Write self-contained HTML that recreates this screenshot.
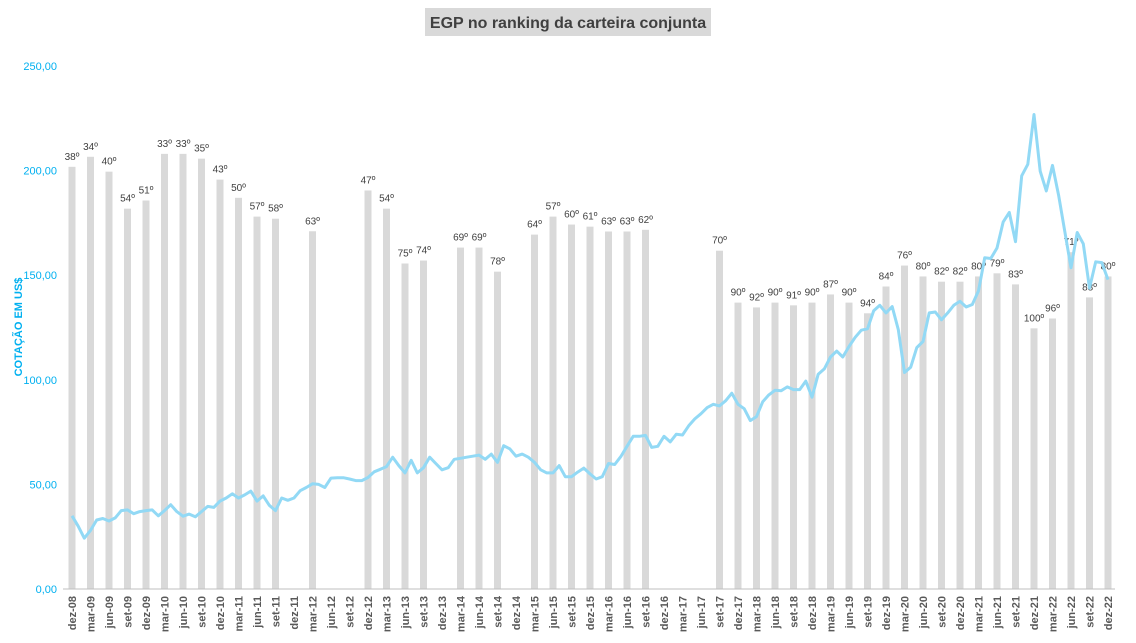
<!DOCTYPE html>
<html><head><meta charset="utf-8"><style>
body{margin:0;background:#fff;}
svg{display:block;font-family:"Liberation Sans",sans-serif;}
</style></head><body>
<svg id="chart" width="1136" height="643">
<rect x="425" y="8" width="286" height="28" fill="#d9d9d9"/>
<text x="568" y="28" text-anchor="middle" font-size="16" font-weight="bold" fill="#404040">EGP no ranking da carteira conjunta</text>
<text transform="translate(22,327) rotate(-90)" text-anchor="middle" font-size="11" font-weight="bold" fill="#00b0f0">COTAÇÃO EM US$</text>
<g id="yticks"></g><g id="bars"></g><g id="barlabels"></g><g id="line"></g><g id="xticks"></g>
<line x1="63" y1="589" x2="1115" y2="589" stroke="#bfbfbf" stroke-width="1"/>
</svg>
<script>
const yTicks=[0,50,100,150,200,250];
const yTickLabels=["0,00","50,00","100,00","150,00","200,00","250,00"];
const quarterMonths=["dez","mar","jun","set"];
const barValues=[201.8,206.6,199.5,181.8,185.7,208,208,205.7,195.7,187,178,177,null,171,null,null,190.5,181.8,155.6,157,null,163.2,163.2,151.7,null,169.4,178,174.2,173.2,170.9,170.9,171.7,null,null,null,161.7,136.9,134.6,136.9,135.6,136.9,140.8,136.9,131.8,144.6,154.6,149.4,146.9,146.9,149.4,150.9,145.6,124.6,129.3,161,139.4,149.4];
const barRanks=["38º","34º","40º","54º","51º","33º","33º","35º","43º","50º","57º","58º",null,"63º",null,null,"47º","54º","75º","74º",null,"69º","69º","78º",null,"64º","57º","60º","61º","63º","63º","62º",null,null,null,"70º","90º","92º","90º","91º","90º","87º","90º","94º","84º","76º","80º","82º","82º","80º","79º","83º","100º","96º","71º","88º","80º"];
const priceValues=[35,30,24.3,28,33,33.7,32.5,34,37.5,37.8,36,37,37.5,37.8,35,37.5,40.3,37,34.8,35.8,34.5,37,39.5,39,42,43.5,45.5,43.5,45,46.8,42,44.5,40,37.5,43.5,42.4,43.5,47,48.5,50.3,50,48.5,53,53.2,53.2,52.6,51.8,51.8,53.3,56,57.2,58.5,63,59,55.5,61.5,55.5,58,63,60,57,58,62,62.5,63,63.5,64,62,64.5,60.5,68.5,67,63.5,64.5,63,60.5,57,55.5,55.5,59,53.7,53.7,55.9,57.8,55,52.6,53.7,60,59.5,63.3,68.2,73,73,73.4,67.7,68.2,73,70.3,74,73.6,78,81.3,83.8,86.7,88.3,87.5,90,93.6,88.3,86.2,80.5,82.4,89.5,92.8,95,94.8,96.6,95.3,95.3,99.4,91.7,102.7,105.2,110.9,113.7,110.9,115.9,120.3,123.7,124.4,133,135.6,132,135,124,103.5,106,115.4,118.3,132,132.4,128.7,132,135.6,137.5,134.8,136,142.5,158.3,158,163,175.5,180,166,197.5,203,226.8,199.7,190.3,202.5,188,170.9,153.6,170.4,165,143.8,156.4,156,147.9];
const NS="http://www.w3.org/2000/svg";
const X0=72,XM=6.1667,Y0=589,YS=523/250;
const xm=m=>X0+m*XM, yv=v=>Y0-v*YS;
function mk(t,a,p){const e=document.createElementNS(NS,t);for(const k in a)e.setAttribute(k,a[k]);p.appendChild(e);return e;}
const gy=document.getElementById('yticks');
yTicks.forEach((v,i)=>{const t=mk('text',{x:57,y:yv(v)+4,'text-anchor':'end','font-size':11,fill:'#00b0f0'},gy);t.textContent=yTickLabels[i];

});
const gb=document.getElementById('bars'),gl=document.getElementById('barlabels'),gx=document.getElementById('xticks');
barValues.forEach((v,i)=>{const x=xm(i*3);
 const lab=quarterMonths[i%4]+'-'+String(8+Math.floor((i+3)/4)).padStart(2,'0');
 const tx=mk('text',{transform:`translate(${x+4},596) rotate(-90)`,'text-anchor':'end','font-size':11,'font-weight':'bold',fill:'#595959'},gx);tx.textContent=lab;
 
 
 if(v==null)return;
 const r=mk('rect',{x:x-3.5,y:yv(v),width:7,height:v*YS,fill:'#d9d9d9'},gb);
 
 
 const t=mk('text',{x:x,y:yv(v)-7,'text-anchor':'middle','font-size':10,fill:'#404040'},gl);t.textContent=barRanks[i];
 
 
});
const d=priceValues.map((v,i)=>(i?'L':'M')+xm(i).toFixed(1)+','+yv(v).toFixed(1)).join('');
const p=mk('path',{d:d,fill:'none',stroke:'#92d9f5',"stroke-width":3,"stroke-linejoin":'round'},document.getElementById('line'));


</script>
</body></html>
